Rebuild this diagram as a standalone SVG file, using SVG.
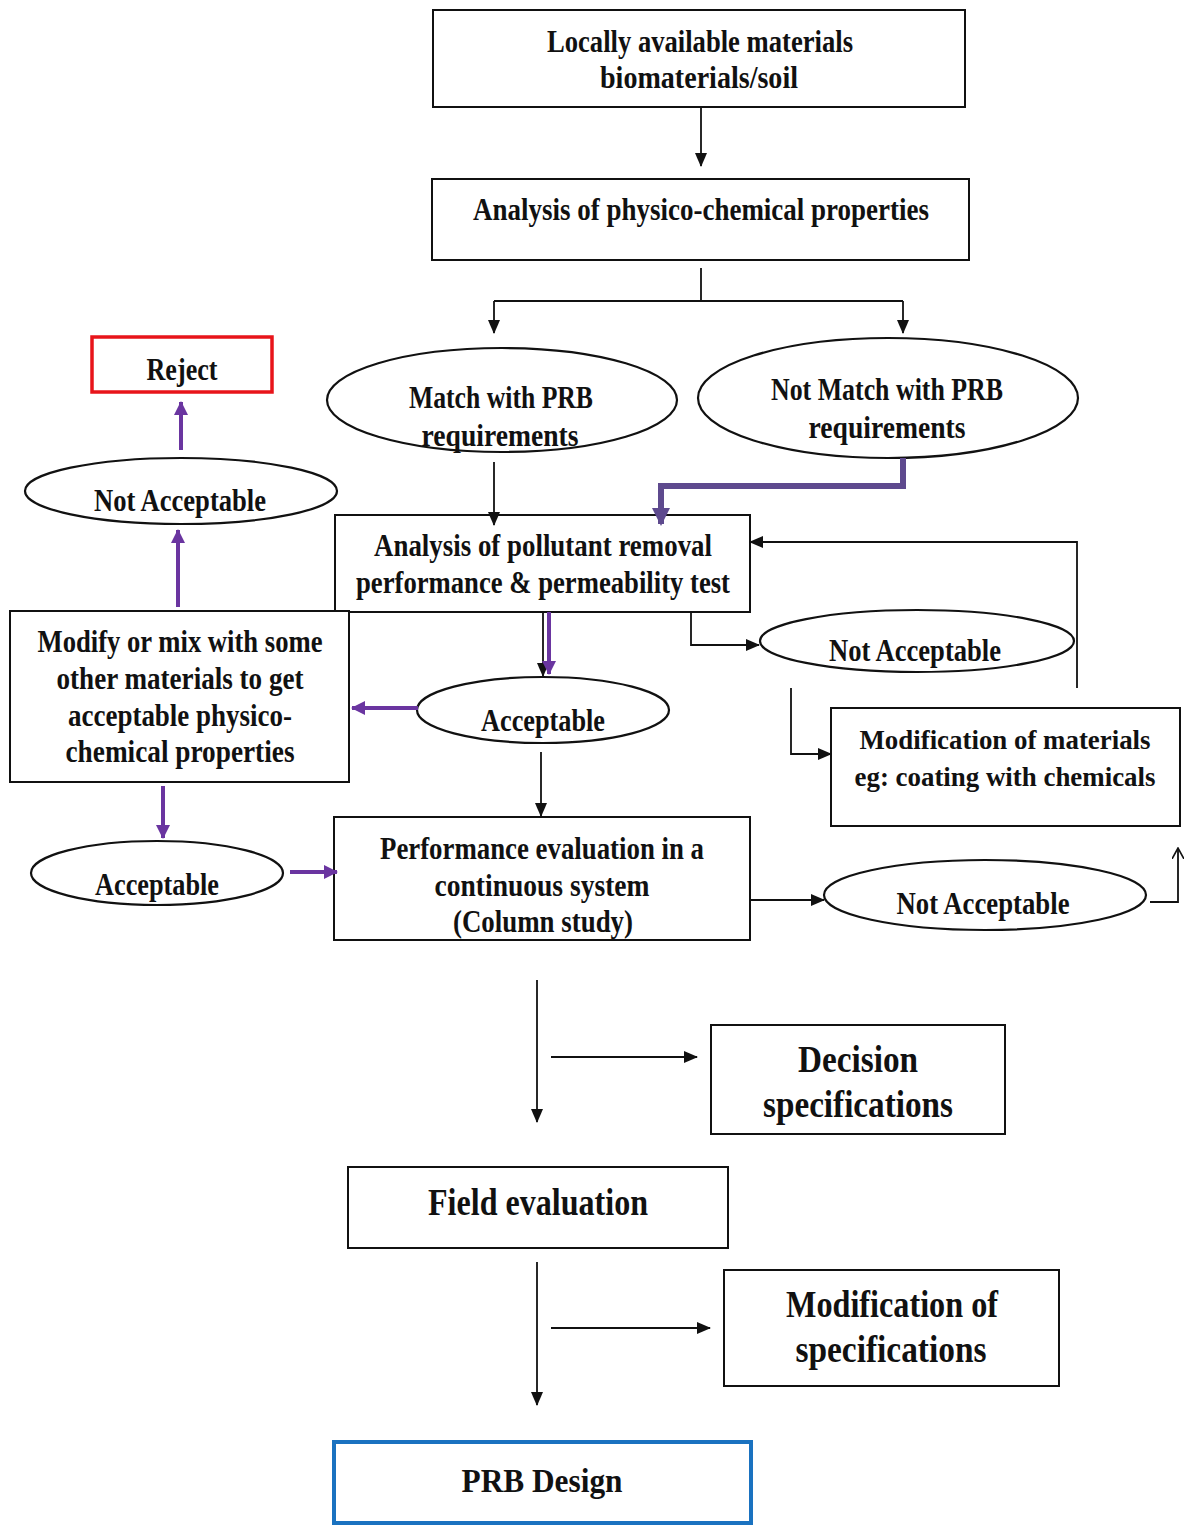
<svg xmlns="http://www.w3.org/2000/svg" width="1187" height="1526" viewBox="0 0 1187 1526">
<defs>
<style>
.box{fill:#fff;stroke:#111;stroke-width:2}
.ell{fill:#fff;stroke:#111;stroke-width:2.2}
.t{font-family:"Liberation Serif","Times New Roman",serif;font-weight:bold;font-size:31px;fill:#111;text-anchor:middle}
.tl{font-family:"Liberation Serif","Times New Roman",serif;font-weight:bold;font-size:38px;fill:#111;text-anchor:middle}
.c{fill:none;stroke:#111;stroke-width:1.8}
.p{fill:none;stroke:#6a35a0;stroke-width:4}
.pt{fill:none;stroke:#5e4a8e;stroke-width:6}
</style>
<marker id="ab" markerWidth="14" markerHeight="12" refX="13" refY="6" orient="auto" markerUnits="userSpaceOnUse" viewBox="0 0 14 12"><path d="M0,0 L14,6 L0,12 Z" fill="#111"/></marker>
<marker id="ap" markerWidth="14" markerHeight="14" refX="13" refY="7" orient="auto" markerUnits="userSpaceOnUse" viewBox="0 0 14 14"><path d="M0,0 L14,7 L0,14 Z" fill="#6a35a0"/></marker>
<marker id="apt" markerWidth="18" markerHeight="18" refX="16" refY="9" orient="auto" markerUnits="userSpaceOnUse" viewBox="0 0 18 18"><path d="M0,0 L18,9 L0,18 Z" fill="#5e4a8e"/></marker>
<marker id="ao" markerWidth="12" markerHeight="12" refX="11" refY="6" orient="auto" markerUnits="userSpaceOnUse" viewBox="0 0 12 12"><path d="M0,0 L11,6 L0,12" fill="none" stroke="#111" stroke-width="1.6"/></marker>
</defs>

<g id="n-local"><rect class="box" x="433" y="10" width="532" height="97"/>
<text class="t" x="700" y="52" textLength="306" lengthAdjust="spacingAndGlyphs">Locally available materials</text>
<text class="t" x="699" y="88" textLength="198" lengthAdjust="spacingAndGlyphs">biomaterials/soil</text></g>

<g id="n-analysis"><rect class="box" x="432" y="179" width="537" height="81"/>
<text class="t" x="701" y="220" textLength="456" lengthAdjust="spacingAndGlyphs">Analysis of physico-chemical properties</text></g>

<g id="n-match"><ellipse class="ell" cx="502" cy="400" rx="175" ry="52"/>
<text class="t" x="501" y="408" textLength="184" lengthAdjust="spacingAndGlyphs">Match with PRB</text>
<text class="t" x="500" y="446" textLength="157" lengthAdjust="spacingAndGlyphs">requirements</text></g>

<g id="n-notmatch"><ellipse class="ell" cx="888" cy="398" rx="190" ry="60"/>
<text class="t" x="887" y="400" textLength="232" lengthAdjust="spacingAndGlyphs">Not Match with PRB</text>
<text class="t" x="887" y="438" textLength="157" lengthAdjust="spacingAndGlyphs">requirements</text></g>

<g id="n-reject"><rect x="92" y="337" width="180" height="55" fill="#fff" stroke="#e8141a" stroke-width="3.5"/>
<text class="t" x="182" y="380" textLength="71" lengthAdjust="spacingAndGlyphs">Reject</text></g>

<g id="n-na-left"><ellipse class="ell" cx="181" cy="491" rx="156" ry="33"/>
<text class="t" x="180" y="511" textLength="172" lengthAdjust="spacingAndGlyphs">Not Acceptable</text></g>

<g id="n-pollutant"><rect class="box" x="335" y="515" width="415" height="97"/>
<text class="t" x="543" y="556" textLength="338" lengthAdjust="spacingAndGlyphs">Analysis of pollutant removal</text>
<text class="t" x="543" y="593" textLength="374" lengthAdjust="spacingAndGlyphs">performance &amp; permeability test</text></g>

<g id="n-na-mid"><ellipse class="ell" cx="917" cy="641" rx="157" ry="31"/>
<text class="t" x="915" y="661" textLength="172" lengthAdjust="spacingAndGlyphs">Not Acceptable</text></g>

<g id="n-modmat"><rect class="box" x="831" y="708" width="349" height="118"/>
<text class="t" x="1005" y="749" textLength="291" lengthAdjust="spacingAndGlyphs" style="font-size:28px">Modification of materials</text>
<text class="t" x="1005" y="786" textLength="301" lengthAdjust="spacingAndGlyphs" style="font-size:28px">eg: coating with chemicals</text></g>

<g id="n-modify"><rect class="box" x="10" y="611" width="339" height="171"/>
<text class="t" x="180" y="652" textLength="285" lengthAdjust="spacingAndGlyphs">Modify or mix with some</text>
<text class="t" x="180" y="689" textLength="247" lengthAdjust="spacingAndGlyphs">other materials to get</text>
<text class="t" x="180" y="726" textLength="224" lengthAdjust="spacingAndGlyphs">acceptable physico-</text>
<text class="t" x="180" y="762" textLength="229" lengthAdjust="spacingAndGlyphs">chemical properties</text></g>

<g id="n-acc-mid"><ellipse class="ell" cx="543" cy="710" rx="126" ry="33"/>
<text class="t" x="543" y="731" textLength="124" lengthAdjust="spacingAndGlyphs">Acceptable</text></g>

<g id="n-acc-left"><ellipse class="ell" cx="157" cy="873" rx="126" ry="32"/>
<text class="t" x="157" y="895" textLength="124" lengthAdjust="spacingAndGlyphs">Acceptable</text></g>

<g id="n-perf"><rect class="box" x="334" y="817" width="416" height="123"/>
<text class="t" x="542" y="859" textLength="324" lengthAdjust="spacingAndGlyphs">Performance evaluation in a</text>
<text class="t" x="542" y="896" textLength="215" lengthAdjust="spacingAndGlyphs">continuous system</text>
<text class="t" x="543" y="932" textLength="180" lengthAdjust="spacingAndGlyphs">(Column study)</text></g>

<g id="n-na-bot"><ellipse class="ell" cx="985" cy="895" rx="161" ry="35"/>
<text class="t" x="983" y="914" textLength="173" lengthAdjust="spacingAndGlyphs">Not Acceptable</text></g>

<g id="n-decision"><rect class="box" x="711" y="1025" width="294" height="109"/>
<text class="tl" x="858" y="1072" textLength="120" lengthAdjust="spacingAndGlyphs">Decision</text>
<text class="tl" x="858" y="1117" textLength="190" lengthAdjust="spacingAndGlyphs">specifications</text></g>

<g id="n-field"><rect class="box" x="348" y="1167" width="380" height="81"/>
<text class="tl" x="538" y="1215" textLength="220" lengthAdjust="spacingAndGlyphs">Field evaluation</text></g>

<g id="n-modspec"><rect class="box" x="724" y="1270" width="335" height="116"/>
<text class="tl" x="892" y="1317" textLength="212" lengthAdjust="spacingAndGlyphs">Modification of</text>
<text class="tl" x="891" y="1362" textLength="191" lengthAdjust="spacingAndGlyphs">specifications</text></g>

<g id="n-prb"><rect x="334" y="1442" width="417" height="81" fill="#fff" stroke="#1a72c0" stroke-width="4"/>
<text class="t" x="542" y="1492" textLength="161" lengthAdjust="spacingAndGlyphs" style="font-size:34px">PRB Design</text></g>

<g id="connectors">
<path class="c" d="M701,107 V166" marker-end="url(#ab)"/>
<path class="c" d="M701,268 V301 M494,301 H903"/>
<path class="c" d="M494,301 V333" marker-end="url(#ab)"/>
<path class="c" d="M903,301 V333" marker-end="url(#ab)"/>
<path class="p" d="M181,450 V402" marker-end="url(#ap)"/>
<path class="p" d="M178,607 V530" marker-end="url(#ap)"/>
<path class="c" d="M494,462 V525" marker-end="url(#ab)"/>
<path class="pt" d="M903,458 V486 H661 V524" marker-end="url(#apt)"/>
<path class="c" d="M1077,688 V542 H750" marker-end="url(#ab)"/>
<path class="c" d="M691,612 V645 H759" marker-end="url(#ab)"/>
<path class="c" d="M791,688 V754 H831" marker-end="url(#ab)"/>
<path class="c" d="M543,612 V676" marker-end="url(#ab)"/>
<path class="p" d="M549,612 V674" marker-end="url(#ap)"/>
<path class="p" d="M418,708 H352" marker-end="url(#ap)"/>
<path class="c" d="M541,752 V816" marker-end="url(#ab)"/>
<path class="p" d="M163,786 V838" marker-end="url(#ap)"/>
<path class="p" d="M290,872 H337" marker-end="url(#ap)"/>
<path class="c" d="M750,900 H824" marker-end="url(#ab)"/>
<path class="c" d="M1150,902 H1178 V848" marker-end="url(#ao)"/>
<path class="c" d="M537,980 V1122" marker-end="url(#ab)"/>
<path class="c" d="M551,1057 H697" marker-end="url(#ab)"/>
<path class="c" d="M537,1262 V1405" marker-end="url(#ab)"/>
<path class="c" d="M551,1328 H710" marker-end="url(#ab)"/>
</g>
</svg>
